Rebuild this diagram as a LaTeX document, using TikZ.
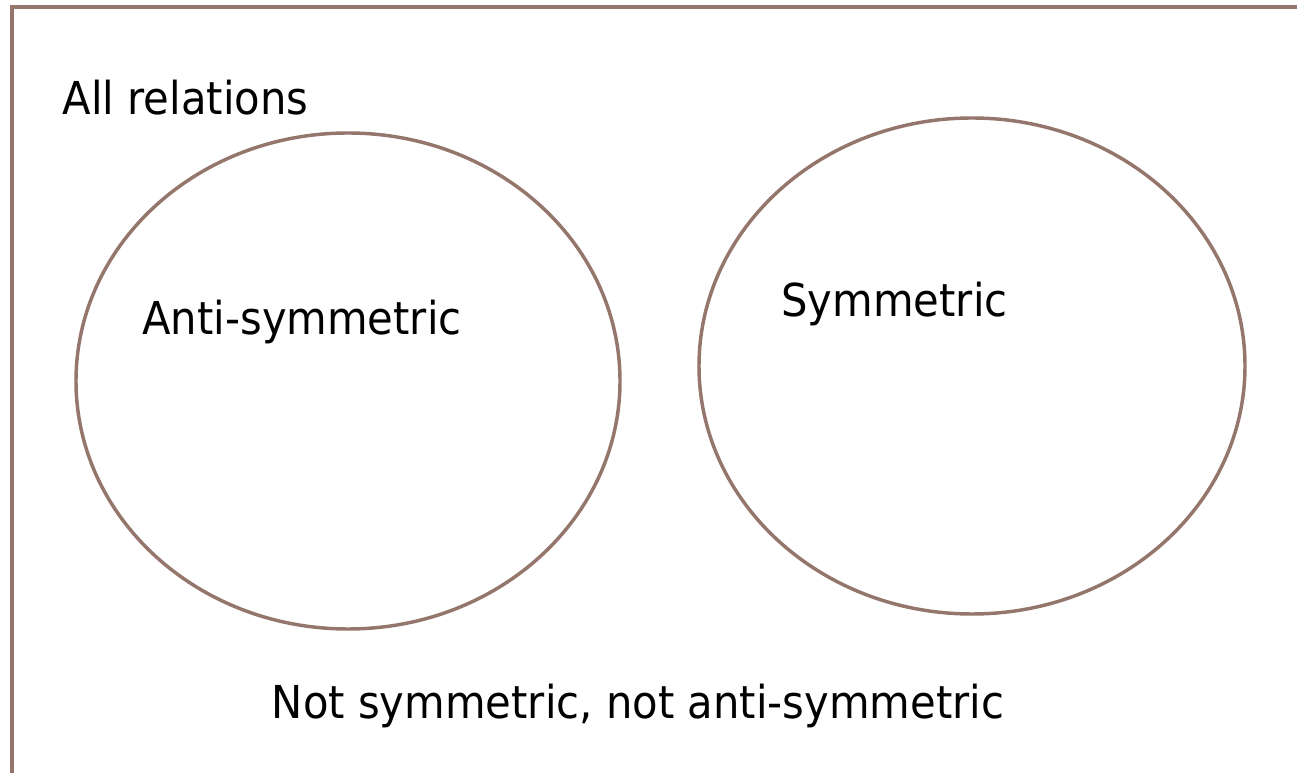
\documentclass[tikz,border=0pt]{standalone}
\usepackage{fontspec}
\setmainfont{DejaVu Sans}[FakeStretch=0.92]
\definecolor{edgebrown}{RGB}{148,118,108}
\begin{document}
\begin{tikzpicture}[x=0.75pt,y=-0.75pt,
  setshape/.style={draw=edgebrown,line width=2.6pt},
  frameline/.style={draw=edgebrown,line width=3pt},
  lbl/.style={font=\fontsize{34pt}{40pt}\selectfont,anchor=base,inner sep=0pt}]
\useasboundingbox (0,0) rectangle (1297,773);
\clip (0,0) rectangle (1297,773);
\draw[frameline] (12,7) rectangle (1320,800);
\draw[setshape] (348,381) ellipse [x radius=272, y radius=248];
\draw[setshape] (972,366) ellipse [x radius=273, y radius=248];
\node[lbl] (all) at (185.5,115) {All relations};
\node[lbl] (anti) at (302,335) {Anti-symmetric};
\node[lbl] (sym) at (894.5,317) {Symmetric};
\node[lbl] (neither) at (638,718) {Not symmetric, not anti-symmetric};
\end{tikzpicture}
\end{document}
